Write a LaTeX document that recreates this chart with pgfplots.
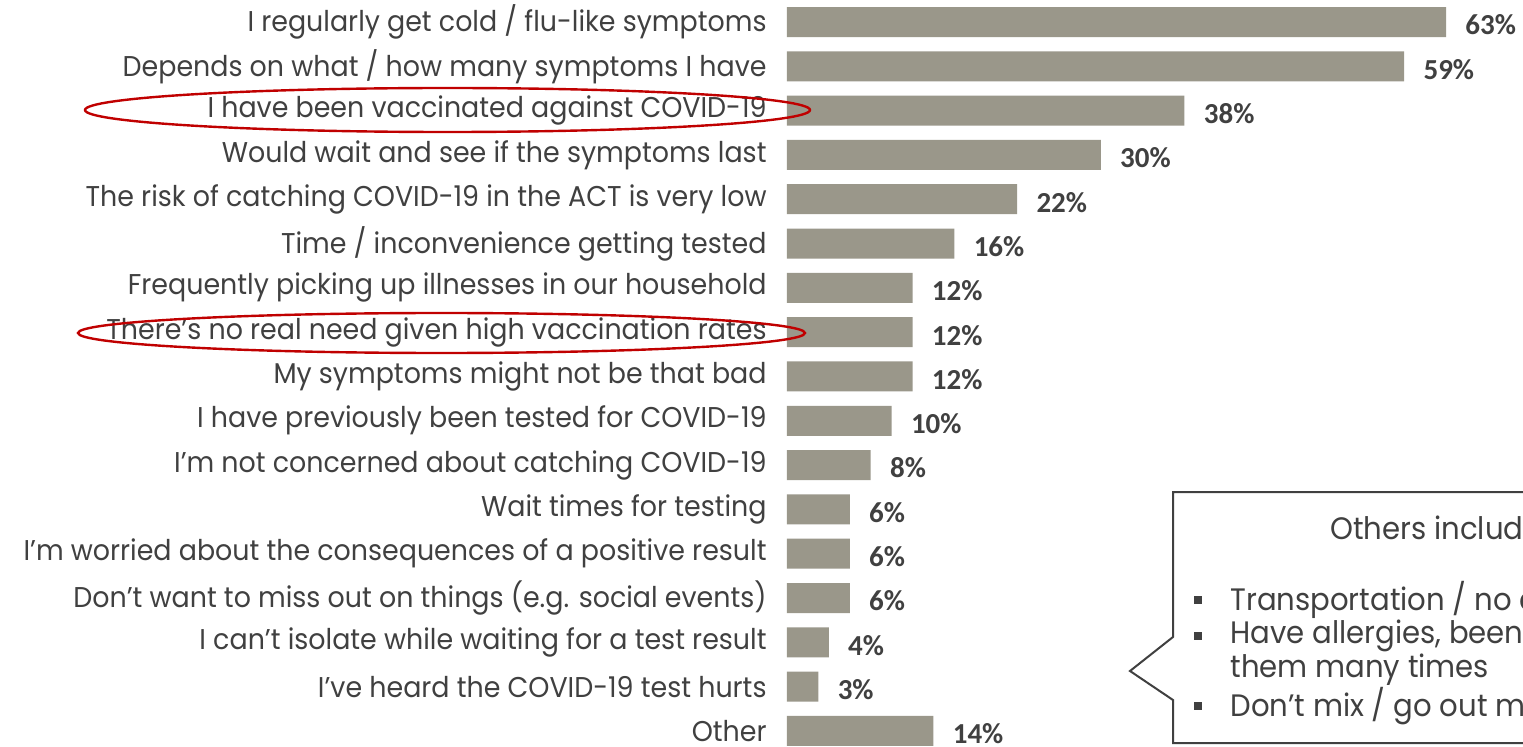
\documentclass[border=0pt]{standalone}
\usepackage{pgfplots}
\usepackage{pgfplotstable}
\pgfplotsset{compat=1.18}
\usepackage{fontspec}
\setmainfont{Poppins}[FakeStretch=0.94]
\newfontfamily\valfont{Carlito}
\definecolor{barfill}{HTML}{9A978A}
\definecolor{txt}{HTML}{404040}
\definecolor{ovalred}{HTML}{C00000}

\pgfplotstableread{
idx val
0 63
1 59
2 38
3 30
4 22
5 16
6 12
7 12
8 12
9 10
10 8
11 6
12 6
13 6
14 4
15 3
16 14
}\reasons

\newcommand{\lblfont}{\fontsize{14.3}{17}\selectfont}
\newcommand{\boxfont}{\fontsize{15.5}{18}\selectfont}

\begin{document}
\begin{tikzpicture}
  \useasboundingbox (0,0) rectangle (761.5pt,373pt);
  \clip (0,0) rectangle (761.5pt,373pt);
  \begin{axis}[
    at={(393.5pt,0pt)}, anchor=south west,
    scale only axis, width=368pt, height=373pt,
    xbar, bar width=15pt,
    xmin=0, xmax=70.36,
    ymin=-0.4965, ymax=16.34, y dir=reverse,
    axis line style={draw=none},
    major tick length=0pt,
    xtick=\empty,
    ytick={0,...,16},
    yticklabels={
      I regularly get cold / flu-like symptoms,
      Depends on what / how many symptoms I have,
      I have been vaccinated against COVID-19,
      Would wait and see if the symptoms last,
      The risk of catching COVID-19 in the ACT is very low,
      Time / inconvenience getting tested,
      Frequently picking up illnesses in our household,
      There’s no real need given high vaccination rates,
      My symptoms might not be that bad,
      I have previously been tested for COVID-19,
      I’m not concerned about catching COVID-19,
      Wait times for testing,
      I’m worried about the consequences of a positive result,
      Don’t want to miss out on things (e.g. social events),
      I can’t isolate while waiting for a test result,
      I’ve heard the COVID-19 test hurts,
      Other
    },
    yticklabel style={font=\lblfont, text=txt, anchor=east, inner sep=0pt, xshift=-10pt},
    point meta=x,
    /pgf/number format/assume math mode=true,
    nodes near coords={\pgfmathprintnumber{\pgfplotspointmeta}\%},
    every node near coord/.append style={font=\valfont\bfseries\fontsize{14.5}{16}\selectfont,
      text=txt, anchor=west, inner sep=0pt, xshift=9.5pt, yshift=-1.5pt},
    clip=false,
  ]
    \addplot[fill=barfill, draw=none] table[x=val, y=idx]{\reasons};
  \end{axis}

  % red highlight ovals
  \draw[ovalred, line width=1.2pt] (223.75pt,318pt) ellipse [x radius=181.25pt, y radius=11pt];
  \draw[ovalred, line width=1.2pt] (220.75pt,206.5pt) ellipse [x radius=181.75pt, y radius=10pt];

  % callout box
  \draw[txt, line width=1pt, fill=white]
    (770pt,127pt) -- (586.5pt,127pt) -- (586.5pt,54.5pt) -- (565pt,37.5pt)
    -- (586.5pt,23pt) -- (586.5pt,1.5pt) -- (770pt,1.5pt);
  \node[anchor=west, inner sep=0pt, text=txt, font=\boxfont] at (665pt,109pt) {Others include:};
  \foreach \yy in {73,55,20} {
    \fill[txt] (599pt,\yy pt) ++(-1.8pt,-1.8pt) rectangle ++(3.6pt,3.6pt);
  }
  \node[anchor=west, inner sep=0pt, text=txt, font=\boxfont] at (615pt,73pt) {Transportation / no car};
  \node[anchor=west, inner sep=0pt, text=txt, font=\boxfont] at (615pt,55pt) {Have allergies, been tested for};
  \node[anchor=west, inner sep=0pt, text=txt, font=\boxfont] at (615pt,38pt) {them many times};
  \node[anchor=west, inner sep=0pt, text=txt, font=\boxfont] at (615pt,20pt) {Don’t mix / go out much};
\end{tikzpicture}
\end{document}
